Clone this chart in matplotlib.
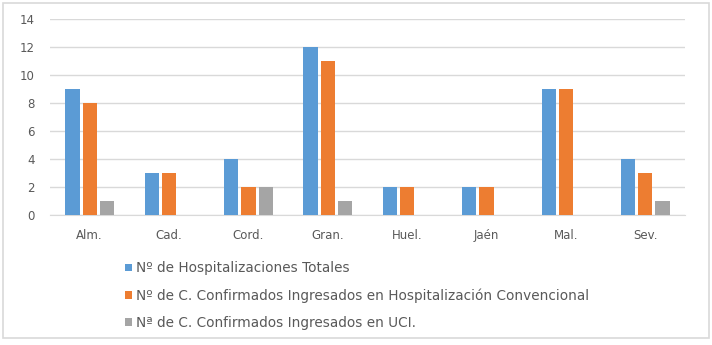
import numpy as np
import matplotlib.pyplot as plt
from matplotlib.patches import Rectangle

plt.rcParams["font.family"] = ["DejaVu Sans"]

categories = ["Alm.", "Cad.", "Cord.", "Gran.", "Huel.", "Jaén", "Mal.", "Sev."]
hosp_totales = [9, 3, 4, 12, 2, 2, 9, 4]
hosp_convencional = [8, 3, 2, 11, 2, 2, 9, 3]
uci = [1, 0, 2, 1, 0, 0, 0, 1]

labels = [
    "Nº de Hospitalizaciones Totales",
    "Nº de C. Confirmados Ingresados en Hospitalización Convencional",
    "Nª de C. Confirmados Ingresados en UCI.",
]
colors = ["#5B9BD5", "#ED7D31", "#A5A5A5"]
text_color = "#595959"

fig = plt.figure(figsize=(7.12, 3.45), dpi=100)
fig.patches.append(Rectangle((3 / 712, 7 / 345), 706 / 712, 335 / 345,
                             transform=fig.transFigure, fill=False,
                             edgecolor="#D9D9D9", linewidth=1.2))

ax = fig.add_axes([50 / 712, 1 - 215 / 345, 635 / 712, 196 / 345])

x = np.arange(len(categories))
width = 0.18
offset = 0.217
bars = []
for i, (vals, lab, col) in enumerate(zip([hosp_totales, hosp_convencional, uci], labels, colors)):
    b = ax.bar(x + (i - 1) * offset, vals, width, color=col, label=lab, zorder=3)
    bars.append(b)

ax.set_xlim(-0.5, len(categories) - 0.5)
ax.set_ylim(0, 14)
ax.set_yticks(range(0, 15, 2))
ax.set_xticks(x)
ax.set_xticklabels(categories)
ax.tick_params(axis="both", length=0, labelsize=8.5, colors=text_color)
ax.tick_params(axis="x", pad=10)
ax.tick_params(axis="y", pad=11)
ax.grid(axis="y", color="#D9D9D9", linewidth=1, zorder=0)
for s in ["top", "right", "left"]:
    ax.spines[s].set_visible(False)
ax.spines["bottom"].set_color("#D9D9D9")

fig.legend(handles=bars, labels=labels, loc="upper left",
           bbox_to_anchor=(113 / 712, 1 - 249 / 345), frameon=False,
           fontsize=9.8, labelcolor=text_color, handlelength=0.5,
           handleheight=0.5, handletextpad=0.3, labelspacing=0.95)

plt.savefig("out.png", dpi=100)
